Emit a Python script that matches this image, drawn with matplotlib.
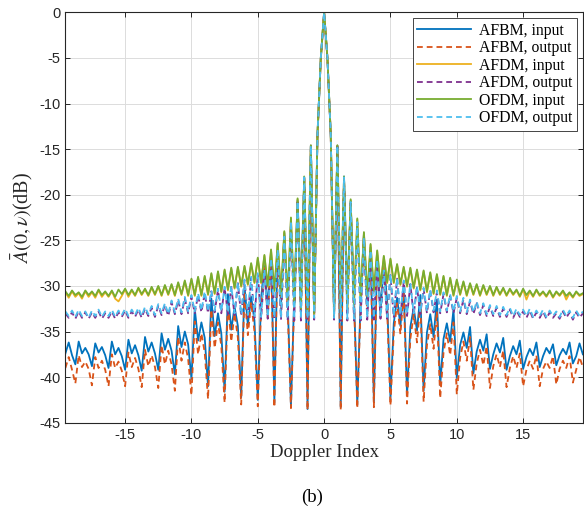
import numpy as np
import matplotlib.pyplot as plt

plt.rcParams['axes.unicode_minus'] = False
plt.rcParams['mathtext.fontset'] = 'stix'

# Doppler index grid (step 0.25)
doppler_idx = np.arange(-19.5, 19.5 + 0.125, 0.25)

# rows: first row -19.5..-19, then each row starts at a multiple of 1.25
afbm_in = [
    -37.4, -36.2, -37.6,
    -38.6, -36.1, -37.4, -36.8, -37.5,
    -38.8, -36.3, -37.3, -36.7, -37.6,
    -39.0, -36.1, -37.5, -36.8, -37.7,
    -39.2, -35.9, -37.4, -36.5, -37.6,
    -39.3, -35.6, -37.2, -36.2, -37.4,
    -39.2, -35.2, -37.0, -35.8, -37.1,
    -39.7, -34.4, -36.7, -35.0, -36.4,
    -40.2, -32.5, -36.0, -34.0, -35.7,
    -41.0, -31.4, -35.5, -33.0, -35.2,
    -41.6, -30.9, -34.8, -32.3, -34.4,
    -42.2, -30.0, -34.3, -31.2, -33.8,
    -42.5, -31.5, -27.3, -32.5, -26.4,
    -42.8, -25.6, -32.0, -24.2, -31.5,
    -43.2, -31.0, -20.6, -31.0, -18.1,
    -43.5, -14.6, -33.0, -13.4, -5.0,
    0.0, -5.0, -13.4, -33.2, -14.6,
    -43.3, -18.0, -31.2, -20.7, -31.2,
    -43.0, -31.6, -24.3, -32.1, -25.8,
    -42.7, -26.6, -32.6, -27.5, -31.6,
    -42.4, -34.1, -31.3, -34.4, -30.1,
    -42.0, -34.5, -32.4, -34.9, -31.0,
    -41.5, -35.1, -33.1, -35.6, -31.5,
    -40.9, -35.8, -34.1, -36.1, -32.6,
    -40.1, -36.5, -35.1, -36.8, -34.5,
    -39.6, -37.2, -35.9, -37.1, -35.3,
    -39.1, -37.5, -36.3, -37.3, -35.7,
    -39.2, -37.7, -36.6, -37.5, -36.0,
    -39.1, -37.8, -36.9, -37.6, -36.2,
    -38.9, -37.7, -36.8, -37.4, -36.4,
    -38.7, -37.6, -36.9, -37.5, -36.2,
    -38.5, -37.7, -36.3, -37.5,
]

afbm_out = [
    -39.0, -37.8, -39.2,
    -40.7, -37.6, -38.9, -38.3, -39.1,
    -40.9, -37.8, -39.0, -38.2, -39.2,
    -41.0, -37.5, -39.0, -38.3, -39.3,
    -41.0, -37.3, -38.9, -37.9, -39.1,
    -41.1, -37.0, -38.8, -37.6, -38.9,
    -41.2, -36.5, -38.6, -37.1, -38.6,
    -41.5, -35.6, -38.2, -36.2, -38.0,
    -42.0, -33.9, -37.5, -35.2, -37.3,
    -42.4, -32.6, -36.8, -34.0, -36.6,
    -42.8, -31.9, -36.1, -33.0, -35.7,
    -43.0, -30.6, -35.4, -31.8, -35.0,
    -43.2, -32.5, -27.8, -33.5, -26.8,
    -43.3, -26.0, -33.0, -24.5, -32.5,
    -43.4, -31.8, -20.8, -31.8, -18.3,
    -43.6, -14.7, -33.2, -13.5, -5.1,
    0.0, -5.1, -13.5, -33.3, -14.7,
    -43.6, -18.2, -31.9, -20.9, -31.7,
    -43.4, -32.4, -24.6, -33.1, -26.1,
    -43.3, -26.9, -33.4, -27.9, -32.6,
    -43.1, -35.1, -31.9, -35.3, -30.7,
    -42.9, -35.8, -33.1, -36.2, -31.9,
    -42.7, -36.5, -34.2, -36.9, -32.8,
    -42.3, -37.3, -35.2, -37.6, -34.0,
    -41.9, -37.9, -36.1, -38.2, -35.6,
    -41.4, -38.5, -37.0, -38.7, -36.6,
    -41.2, -38.8, -37.5, -38.9, -37.1,
    -41.1, -39.0, -37.7, -39.0, -37.4,
    -41.0, -39.2, -38.2, -39.1, -37.6,
    -41.0, -39.1, -38.3, -39.0, -37.7,
    -40.8, -39.1, -38.2, -39.0, -37.7,
    -40.6, -39.2, -37.8, -38.9,
]

afdm_in = [
    -30.7, -31.3, -30.6,
    -31.2, -30.8, -31.4, -30.6, -31.2,
    -30.7, -31.3, -30.5, -31.2, -30.7,
    -31.2, -30.6, -31.4, -31.7, -31.1,
    -30.4, -31.2, -30.5, -31.1, -30.3,
    -31.0, -30.4, -31.1, -30.2, -31.0,
    -30.1, -31.1, -30.0, -31.0, -29.9,
    -31.1, -29.7, -31.0, -29.5, -31.1,
    -29.3, -31.1, -29.1, -31.1, -29.0,
    -31.0, -28.7, -30.9, -28.5, -30.7,
    -28.3, -30.5, -28.1, -30.3, -28.0,
    -30.1, -27.9, -29.9, -27.6, -29.7,
    -27.0, -29.7, -26.7, -30.1, -26.1,
    -30.6, -25.4, -31.1, -24.1, -31.6,
    -22.6, -32.1, -20.5, -32.6, -18.1,
    -33.1, -14.6, -33.1, -13.4, -5.0,
    0.0, -5.0, -13.4, -33.1, -14.6,
    -33.1, -18.1, -32.6, -20.6, -32.1,
    -22.7, -31.6, -24.2, -31.1, -25.5,
    -30.6, -26.2, -30.1, -26.8, -29.7,
    -27.1, -29.7, -27.7, -29.9, -28.0,
    -30.1, -28.1, -30.3, -28.3, -30.5,
    -28.4, -30.7, -28.6, -30.9, -28.8,
    -31.0, -29.0, -31.1, -29.2, -31.1,
    -29.4, -31.0, -29.6, -31.1, -29.8,
    -31.0, -29.9, -31.1, -30.0, -31.0,
    -30.1, -31.1, -30.2, -31.0, -30.3,
    -31.1, -30.4, -31.0, -30.5, -31.2,
    -30.4, -31.5, -30.6, -31.2, -30.5,
    -31.1, -30.7, -31.2, -30.6, -31.3,
    -30.7, -31.1, -30.6, -31.5, -30.8,
    -31.3, -30.7, -31.1, -30.9,
]

afdm_out = [
    -33.0, -33.5, -32.9,
    -33.6, -32.8, -33.5, -32.9, -33.6,
    -32.9, -33.5, -32.8, -33.6, -33.0,
    -33.5, -32.8, -33.6, -32.9, -33.4,
    -32.7, -33.5, -32.8, -33.4, -32.6,
    -33.5, -32.5, -33.3, -32.4, -33.4,
    -32.2, -33.2, -32.1, -33.3, -31.8,
    -33.1, -31.6, -33.1, -31.4, -33.0,
    -31.2, -33.0, -31.0, -32.9, -30.8,
    -33.0, -30.6, -32.9, -30.4, -33.0,
    -30.2, -33.1, -30.1, -33.2, -29.7,
    -33.3, -29.4, -33.4, -29.1, -33.5,
    -28.7, -33.6, -28.3, -33.6, -27.1,
    -33.7, -26.1, -33.7, -24.7, -33.8,
    -23.0, -33.8, -20.8, -33.8, -18.2,
    -33.8, -14.7, -33.7, -13.5, -5.1,
    0.0, -5.1, -13.5, -33.7, -14.7,
    -33.8, -18.2, -33.8, -20.9, -33.8,
    -23.1, -33.8, -24.8, -33.7, -26.2,
    -33.7, -27.2, -33.6, -28.4, -33.6,
    -28.8, -33.5, -29.2, -33.4, -29.5,
    -33.3, -29.8, -33.2, -30.1, -33.1,
    -30.3, -33.0, -30.5, -32.9, -30.7,
    -33.0, -30.9, -32.9, -31.1, -33.0,
    -31.3, -33.0, -31.5, -33.1, -31.7,
    -33.1, -31.9, -33.2, -32.1, -33.3,
    -32.3, -33.3, -32.4, -33.4, -32.5,
    -33.4, -32.6, -33.5, -32.7, -33.4,
    -32.8, -33.5, -32.7, -33.6, -32.9,
    -33.5, -32.8, -33.6, -32.9, -33.5,
    -33.0, -33.6, -32.8, -33.5, -32.9,
    -33.7, -32.9, -33.5, -33.0,
]

ofdm_in = [
    -30.6, -31.1, -30.5,
    -31.0, -30.7, -31.2, -30.5, -31.0,
    -30.6, -31.1, -30.4, -31.0, -30.6,
    -31.1, -30.5, -31.2, -30.4, -30.9,
    -30.3, -31.0, -30.4, -31.0, -30.2,
    -30.9, -30.3, -31.0, -30.1, -30.9,
    -30.0, -31.0, -29.9, -30.9, -29.8,
    -31.0, -29.6, -30.9, -29.4, -31.0,
    -29.2, -31.0, -29.0, -31.0, -28.9,
    -30.9, -28.6, -30.8, -28.4, -30.6,
    -28.2, -30.4, -28.0, -30.2, -27.9,
    -30.0, -27.8, -29.8, -27.5, -29.6,
    -26.9, -29.6, -26.6, -30.0, -26.0,
    -30.5, -25.3, -31.0, -24.0, -31.5,
    -22.5, -32.0, -20.4, -32.5, -18.0,
    -33.0, -14.6, -33.0, -13.4, -5.0,
    0.0, -5.0, -13.4, -33.0, -14.6,
    -33.0, -18.0, -32.5, -20.5, -32.0,
    -22.6, -31.5, -24.1, -31.0, -25.4,
    -30.5, -26.1, -30.0, -26.7, -29.6,
    -27.0, -29.6, -27.6, -29.8, -27.9,
    -30.0, -28.0, -30.2, -28.2, -30.4,
    -28.3, -30.6, -28.5, -30.8, -28.7,
    -30.9, -28.9, -31.0, -29.1, -31.0,
    -29.3, -30.9, -29.5, -31.0, -29.7,
    -30.9, -29.8, -31.0, -29.9, -30.9,
    -30.0, -31.0, -30.1, -30.9, -30.2,
    -31.0, -30.3, -30.9, -30.4, -31.1,
    -30.3, -31.0, -30.5, -31.1, -30.4,
    -31.0, -30.6, -31.1, -30.5, -31.2,
    -30.6, -31.0, -30.5, -31.1, -30.7,
    -31.2, -30.6, -31.0, -30.8,
]

ofdm_out = [
    -32.8, -33.3, -32.7,
    -33.4, -32.6, -33.3, -32.8, -33.5,
    -32.7, -33.3, -32.6, -33.4, -32.8,
    -33.3, -32.6, -33.4, -32.7, -33.2,
    -32.5, -33.3, -32.6, -33.2, -32.4,
    -33.3, -32.3, -33.1, -32.2, -33.2,
    -32.0, -33.0, -31.9, -33.1, -31.6,
    -32.9, -31.4, -32.9, -31.2, -32.8,
    -31.0, -32.8, -30.8, -32.7, -30.6,
    -32.8, -30.5, -32.7, -30.3, -32.8,
    -30.1, -32.9, -30.0, -33.0, -29.6,
    -33.1, -29.3, -33.2, -29.0, -33.3,
    -28.6, -33.4, -28.2, -33.4, -27.0,
    -33.5, -26.0, -33.5, -24.6, -33.6,
    -22.9, -33.6, -20.7, -33.6, -18.1,
    -33.6, -14.6, -33.5, -13.4, -5.0,
    0.0, -5.0, -13.4, -33.5, -14.6,
    -33.6, -18.1, -33.6, -20.8, -33.6,
    -23.0, -33.6, -24.7, -33.5, -26.1,
    -33.5, -27.1, -33.4, -28.3, -33.4,
    -28.7, -33.3, -29.1, -33.2, -29.4,
    -33.1, -29.7, -33.0, -30.0, -32.9,
    -30.2, -32.8, -30.4, -32.7, -30.5,
    -32.8, -30.7, -32.7, -30.9, -32.8,
    -31.1, -32.8, -31.3, -32.9, -31.5,
    -32.9, -31.7, -33.0, -31.9, -33.1,
    -32.1, -33.1, -32.2, -33.2, -32.3,
    -33.2, -32.4, -33.3, -32.5, -33.2,
    -32.6, -33.3, -32.5, -33.4, -32.7,
    -33.3, -32.6, -33.4, -32.7, -33.3,
    -32.8, -33.4, -32.6, -33.3, -32.7,
    -33.5, -32.7, -33.3, -32.8,
]

series = [
    ('AFBM, input', afbm_in, '#0072BD', '-'),
    ('AFBM, output', afbm_out, '#D95319', (0, (3.2, 2.2))),
    ('AFDM, input', afdm_in, '#EDB120', '-'),
    ('AFDM, output', afdm_out, '#7E2F8E', (0, (3.2, 2.2))),
    ('OFDM, input', ofdm_in, '#77AC30', '-'),
    ('OFDM, output', ofdm_out, '#4DBEEE', (0, (3.2, 2.2))),
]

fig = plt.figure(figsize=(5.84, 5.13), dpi=100)
ax = fig.add_axes([0.112, 0.176, 0.886, 0.800])

for name, vals, col, ls in series:
    ax.plot(doppler_idx, vals, color=col, linestyle=ls, linewidth=1.3, label=name)

ax.set_xlim(-19.5, 19.5)
ax.set_ylim(-45, 0)
ax.set_xticks([-15, -10, -5, 0, 5, 10, 15])
ax.set_yticks(np.arange(-45, 1, 5))
ax.grid(True, color='#dcdcdc', linewidth=0.7)
ax.set_axisbelow(True)
ax.tick_params(direction='in', top=True, right=True, length=3.5, width=0.7,
               labelsize=10.5, colors='#262626')
for lab in ax.get_xticklabels() + ax.get_yticklabels():
    lab.set_family('Liberation Sans')
for sp in ax.spines.values():
    sp.set_color('#262626')
    sp.set_linewidth(0.8)

ax.set_xlabel('Doppler Index', family='Liberation Serif', fontsize=13.5, color='#262626', labelpad=2)
ax.set_ylabel(r'$\bar{A}(0,\nu)$(dB)', family='Liberation Serif', fontsize=14.5, color='#262626', labelpad=3)

leg = ax.legend(loc='upper right', prop={'family': 'Liberation Serif', 'size': 11.3},
                fancybox=False, framealpha=1, edgecolor='#262626', borderaxespad=0.35,
                handlelength=3.4, labelspacing=0.1, handletextpad=0.55, borderpad=0.3)
leg.get_frame().set_linewidth(0.6)

fig.text(0.534, 1 - 497 / 513, '(b)', ha='center', va='center',
         family='Liberation Serif', fontsize=13.5)

fig.savefig('out.png', dpi=100)
